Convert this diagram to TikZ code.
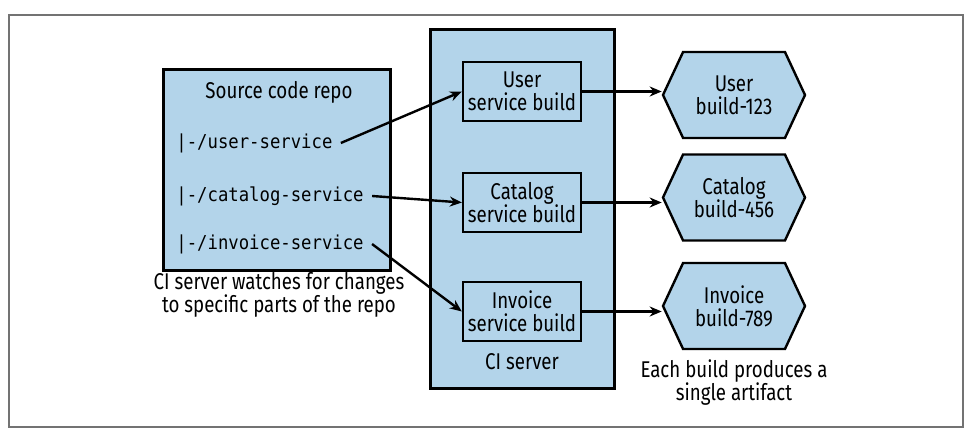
\documentclass[tikz,border=0pt]{standalone}
\usepackage{fontspec}
\setmainfont[FakeStretch=0.82]{Fira Sans}
\setmonofont[FakeStretch=0.9]{DejaVu Sans Mono}
\usetikzlibrary{arrows.meta,positioning,shapes.symbols}
\definecolor{ciblue}{HTML}{B3D4EA}

\begin{document}
\begin{tikzpicture}[x=0.5pt, y=-0.5pt,
    every node/.style={font=\fontsize{11.4}{11.5}\selectfont},
    frame/.style={draw=black!55, line width=0.6pt},
    bigbox/.style={draw, fill=ciblue, line width=1.5pt},
    build/.style={draw, fill=ciblue, line width=1.2pt, align=center, minimum width=59pt, minimum height=29.5pt, inner sep=0pt},
    artifact/.style={signal, signal to=east and west, signal pointer angle=130, draw, fill=ciblue, line width=1.2pt, align=center, minimum width=71pt, minimum height=43pt, inner sep=0pt},
    dir/.style={anchor=west, inner xsep=4pt, inner ysep=2pt, font=\ttfamily\fontsize{9.6}{10}\selectfont},
    caption/.style={align=center},
    arr/.style={-{Stealth[length=6pt, width=5pt]}, line width=1.2pt}]
    \useasboundingbox (0,0) rectangle (973,437);
    \draw[frame] (9,15) rectangle (963,427);
    % source repo
    \node[bigbox, minimum width=113.5pt, minimum height=100.5pt] (repo) at (276.5,170.5) {};
    \node (repotitle) at (279,92) {Source code repo};
    \node[dir] (usr) at (168,143) {|-/user-service};
    \node[dir] (cat) at (168,196) {|-/catalog-service};
    \node[dir] (inv) at (168,244) {|-/invoice-service};
    \node[caption] (watch) at (279,295) {CI server watches for changes\\to specific parts of the repo};
    % CI server
    \node[bigbox, minimum width=92pt, minimum height=179.5pt] (ci) at (522,209.5) {};
    \node[build] (ubuild) at (522,91.5) {User\\service build};
    \node[build] (cbuild) at (522,202.5) {Catalog\\service build};
    \node[build] (ibuild) at (522,311.5) {Invoice\\service build};
    \node (cilabel) at (522,362) {CI server};
    % artifacts
    \node[artifact] (uhex) at (734,95) {User\\build-123};
    \node[artifact] (chex) at (734,197.5) {Catalog\\build-456};
    \node[artifact] (ihex) at (734,306) {Invoice\\build-789};
    \node[caption] (single) at (734,383) {Each build produces a\\single artifact};
    \draw[arr] (usr.east) -- (ubuild.west);
    \draw[arr] (cat.east) -- (cbuild.west);
    \draw[arr] (inv.east) -- (ibuild.west);
    \draw[arr] (ubuild.east) -- (ubuild.east -| uhex.west);
    \draw[arr] (cbuild.east) -- (cbuild.east -| chex.west);
    \draw[arr] (ibuild.east) -- (ibuild.east -| ihex.west);
  \end{tikzpicture}
\end{document}
